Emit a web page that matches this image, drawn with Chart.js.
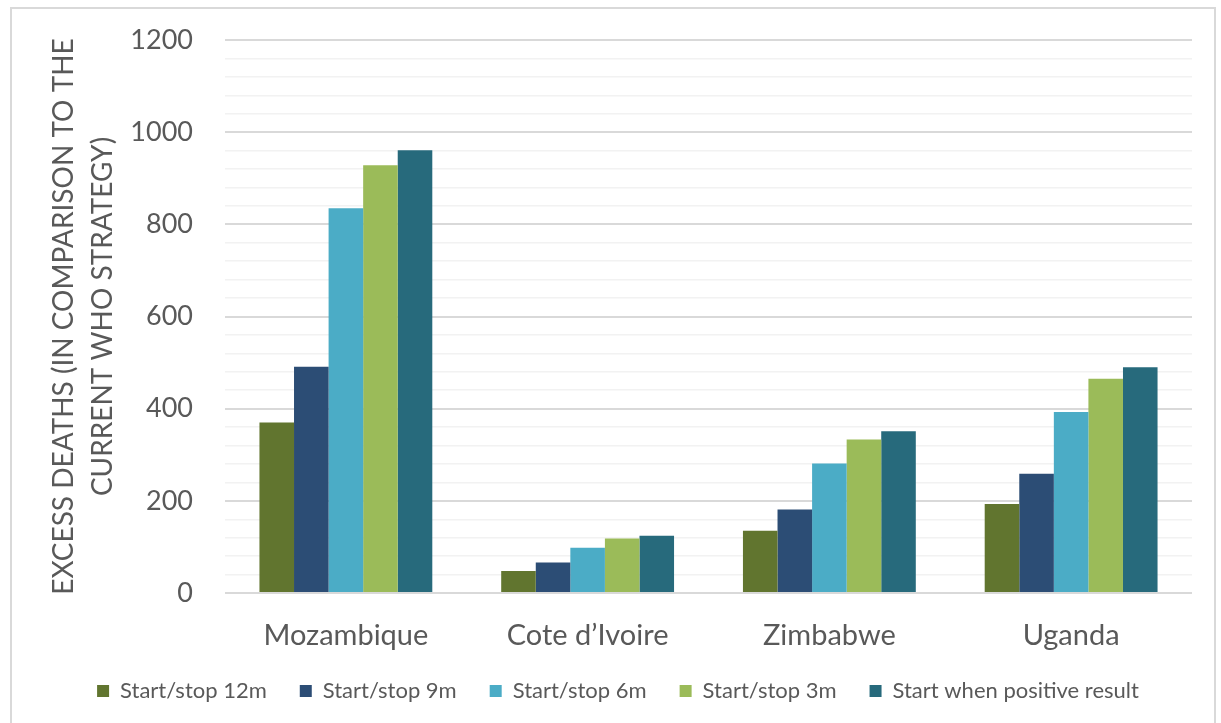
<!DOCTYPE html>
<html>
<head>
<meta charset="utf-8">
<script src="https://cdn.jsdelivr.net/npm/chart.js@4.4.0/dist/chart.umd.min.js"></script>
<style>
  html, body { margin: 0; padding: 0; background: #fff; }
  #frame { position: absolute; left: 10px; top: 7px; width: 1206px; height: 730px; border: 2px solid #D9D9D9; box-sizing: border-box; }
  #wrap { position: absolute; left: 0; top: 0; width: 1221px; height: 723px; }
</style>
</head>
<body>
<div id="frame"></div>
<div id="wrap"><canvas id="chart"></canvas></div>
<script>
const countries = ['Mozambique', 'Cote d\u2019Ivoire', 'Zimbabwe', 'Uganda'];
const stop12m = [370, 48, 135, 193];
const stop9m = [491, 66, 181, 259];
const stop6m = [835, 98, 281, 393];
const stop3m = [928, 118, 333, 465];
const startPositive = [961, 124, 351, 490];
const seriesNames = ['Start/stop 12m', 'Start/stop 9m', 'Start/stop 6m', 'Start/stop 3m', 'Start when positive result'];
const seriesColors = ['#61752F', '#2C4D75', '#4BACC6', '#9BBB59', '#276A7C'];
const yTitle = ['EXCESS DEATHS (IN COMPARISON TO THE', 'CURRENT WHO STRATEGY)'];

const fontFamily = 'Lato, "Open Sans", sans-serif';
const textColor = '#595959';

const seriesData = [stop12m, stop9m, stop6m, stop3m, startPositive];

// legend sits a bit closer to the axis labels than chart.js puts it
const legendNudge = {
  id: 'legendNudge',
  afterLayout(chart) {
    if (chart.legend) {
      chart.legend.top -= 10;
      chart.legend.bottom -= 10;
    }
  }
};

const ctx = document.getElementById('chart').getContext('2d');
const chart = new Chart(ctx, {
  type: 'bar',
  data: {
    labels: countries,
    datasets: seriesData.map((d, i) => ({
      label: seriesNames[i],
      data: d,
      backgroundColor: seriesColors[i],
      borderWidth: 0,
      barPercentage: 1,
      categoryPercentage: 0.715
    }))
  },
  options: {
    responsive: true,
    maintainAspectRatio: false,
    animation: false,
    layout: {
      autoPadding: false,
      padding: { left: 44, right: 29, top: 40, bottom: 1 }
    },
    plugins: {
      legend: {
        position: 'bottom',
        labels: {
          color: textColor,
          font: { family: fontFamily, size: 22 },
          boxWidth: 12,
          boxHeight: 12,
          padding: 33
        }
      },
      tooltip: { enabled: false }
    },
    scales: {
      x: {
        afterFit: s => { s.height = 64; },
        grid: { display: false, drawTicks: false, tickLength: 0 },
        border: { display: false },
        ticks: {
          color: textColor,
          font: { family: fontFamily, size: 29 },
          padding: 25
        }
      },
      y: {
        min: 0,
        max: 1200,
        afterFit: s => {
          s.width = 181;
          s.paddingTop = 0;
          s.paddingBottom = 0;
        },
        border: { display: false },
        grid: {
          drawTicks: false,
          color: c => (c.tick.value % 200 === 0 ? '#D9D9D9' : '#F2F2F2'),
          lineWidth: c => (c.tick.value % 200 === 0 ? 2 : 1.5)
        },
        ticks: {
          stepSize: 40,
          autoSkip: false,
          color: textColor,
          font: { family: fontFamily, size: 27 },
          padding: 32,
          callback: v => (v % 200 === 0 ? v : '')
        },
        title: {
          display: true,
          text: yTitle,
          color: textColor,
          font: { family: fontFamily, size: 28, lineHeight: 1.4 },
          padding: { top: 0, bottom: 10 }
        }
      }
    }
  },
  plugins: [legendNudge]
});
</script>
</body>
</html>
